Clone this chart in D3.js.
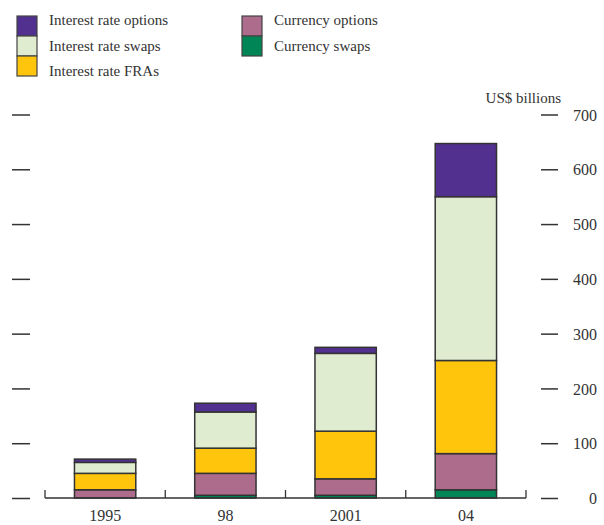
<!DOCTYPE html>
<html>
<head>
<meta charset="utf-8">
<script src="https://cdn.jsdelivr.net/npm/d3@7"></script>
<style>
  html, body { margin: 0; padding: 0; background: #fff; }
  svg text { font-family: "Liberation Serif", "DejaVu Serif", serif; fill: #333; }
</style>
</head>
<body>
<svg id="chart" width="604" height="525"></svg>
<script>
// Categories (years) along the x axis
const years = ["1995", "98", "2001", "04"];

// Series values, US$ billions (stacked bottom to top)
const currencySwaps      = [0, 5, 5, 15];
const currencyOptions    = [15, 40, 30, 66];
const interestRateFRAs   = [30, 46, 87, 170];
const interestRateSwaps  = [20, 66, 142, 299];
const interestRateOptions = [6, 16, 11, 97];

const yTicks = [0, 100, 200, 300, 400, 500, 600, 700];

const seriesKeys = ["cs", "co", "fra", "irs", "iro"];
const seriesNames = {
  iro: "Interest rate options",
  irs: "Interest rate swaps",
  fra: "Interest rate FRAs",
  co: "Currency options",
  cs: "Currency swaps"
};
const colors = {
  iro: "#52308f",
  irs: "#e0ecd0",
  fra: "#ffc40c",
  co: "#ad6c8c",
  cs: "#008556"
};

const table = years.map((y, i) => ({
  year: y,
  cs: currencySwaps[i],
  co: currencyOptions[i],
  fra: interestRateFRAs[i],
  irs: interestRateSwaps[i],
  iro: interestRateOptions[i]
}));

const svg = d3.select("#chart");

const x = d3.scaleBand().domain(years).range([45, 526]).paddingInner(0.49).paddingOuter(0.245);
const y = d3.scaleLinear().domain([0, 700]).range([498, 114.5]);

const stacked = d3.stack().keys(seriesKeys)(table);

// Stacked bars
svg.append("g").selectAll("g")
  .data(stacked)
  .join("g")
    .attr("fill", d => colors[d.key])
  .selectAll("rect")
  .data(d => d.filter(p => p[1] - p[0] > 0))
  .join("rect")
    .attr("x", d => x(d.data.year))
    .attr("width", x.bandwidth())
    .attr("y", d => y(d[1]))
    .attr("height", d => y(d[0]) - y(d[1]))
    .attr("stroke", "#333")
    .attr("stroke-width", 1.5);

// Baseline with category separators
const base = svg.append("g").attr("stroke", "#333").attr("stroke-width", 1.3);
base.append("line").attr("x1", 45).attr("x2", 526).attr("y1", y(0)).attr("y2", y(0));
const bounds = d3.range(years.length + 1).map(i => 45 + i * (526 - 45) / years.length);
base.selectAll("line.sep").data(bounds).join("line")
  .attr("class", "sep")
  .attr("x1", d => d).attr("x2", d => d)
  .attr("y1", y(0)).attr("y2", y(0) - 8);

// Category labels
svg.append("g").selectAll("text")
  .data(years)
  .join("text")
    .attr("x", d => x(d) + x.bandwidth() / 2)
    .attr("y", 521)
    .attr("text-anchor", "middle")
    .attr("font-size", 16)
    .text(d => d);

// Left tick marks (no labels)
const leftAxis = d3.axisLeft(y).tickValues(yTicks).tickSize(0).tickFormat("");
const gl = svg.append("g").attr("transform", "translate(12,0)").call(leftAxis);
gl.select(".domain").remove();
gl.selectAll(".tick").append("line")
  .attr("x1", 0).attr("x2", 18).attr("stroke", "#333").attr("stroke-width", 1.5);

// Right tick marks with labels
const rightAxis = d3.axisRight(y).tickValues(yTicks).tickSize(0).tickFormat("");
const gr = svg.append("g").attr("transform", "translate(541,0)").call(rightAxis);
gr.select(".domain").remove();
gr.selectAll(".tick").append("line")
  .attr("x1", 0).attr("x2", 17).attr("stroke", "#333").attr("stroke-width", 1.5);
gr.selectAll(".tick").append("text")
  .attr("x", 56).attr("dy", "0.35em")
  .attr("text-anchor", "end")
  .attr("font-size", 16)
  .style("fill", "#333")
  .text(d => d3.format("d")(d));

// Unit label
svg.append("text")
  .attr("x", 561).attr("y", 103)
  .attr("text-anchor", "end")
  .attr("font-size", 15)
  .text("US$ billions");

// Legend
const legendCols = [
  { x: 17, keys: ["iro", "irs", "fra"] },
  { x: 242, keys: ["co", "cs"] }
];
legendCols.forEach(col => {
  const g = svg.append("g");
  col.keys.forEach((k, i) => {
    g.append("rect")
      .attr("x", col.x).attr("y", 16 + i * 20)
      .attr("width", 20).attr("height", 20)
      .attr("fill", colors[k])
      .attr("stroke", "#444").attr("stroke-width", 1.2);
    g.append("text")
      .attr("x", col.x + 32).attr("y", 25 + i * 25.5)
      .attr("font-size", 15)
      .text(seriesNames[k]);
  });
});
</script>
</body>
</html>
